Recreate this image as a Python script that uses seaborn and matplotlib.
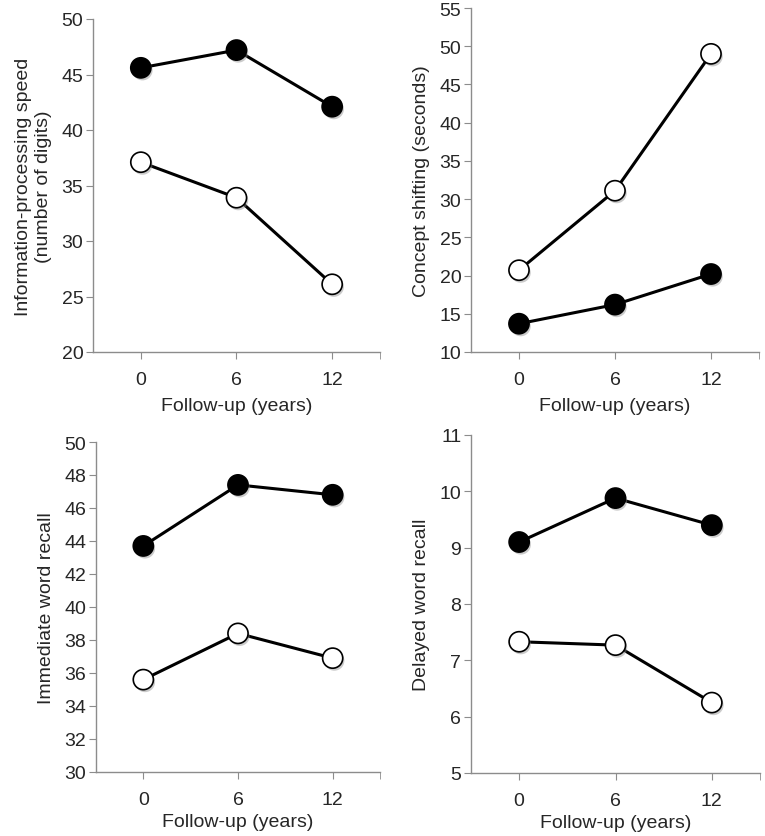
import matplotlib
matplotlib.use("Agg")
import matplotlib.pyplot as plt
import matplotlib.patheffects as pe
import seaborn as sns

# follow-up times (years)
followup = ["0", "6", "12"]

# information-processing speed
speed_filled = [45.6, 47.2, 42.1]
speed_open = [37.1, 33.9, 26.1]

# concept shifting (seconds)
shift_filled = [13.7, 16.2, 20.2]
shift_open = [20.7, 31.1, 49.0]

# immediate word recall
imm_filled = [43.7, 47.4, 46.8]
imm_open = [35.6, 38.4, 36.9]

# delayed word recall
del_filled = [9.1, 9.88, 9.4]
del_open = [7.33, 7.27, 6.25]

sns.set_style("white")
plt.rcParams['font.family'] = ['Liberation Sans', 'DejaVu Sans']

fig = plt.figure(figsize=(7.65, 8.37), dpi=100)
W, H = 765, 837


def add_axes(left, top, right, bottom):
    return fig.add_axes([left / W, 1 - bottom / H, (right - left) / W, (bottom - top) / H])


panels = [
    (add_axes(93, 20, 380, 353), speed_filled, speed_open, (20, 50), 5,
     "Information-processing speed\n(number of digits)", 6),
    (add_axes(471, 9, 759, 353), shift_filled, shift_open, (10, 55), 5,
     "Concept shifting (seconds)", 6),
    (add_axes(96, 443, 380, 773), imm_filled, imm_open, (30, 50), 2,
     "Immediate word recall", 3),
    (add_axes(471, 436, 760, 774), del_filled, del_open, (5, 11), 1,
     "Delayed word recall", 3),
]

shadow = [pe.SimplePatchShadow(offset=(1.2, -1.8), shadow_rgbFace="0.55", alpha=0.45),
          pe.Normal()]

for ax, filled, opened, ylim, step, label, xpad in panels:
    pos = list(range(len(followup)))
    for vals, face in [(filled, "black"), (opened, "white")]:
        sns.lineplot(x=pos, y=vals, ax=ax, color="black", linewidth=2.2)
        sns.scatterplot(x=pos, y=vals, ax=ax, s=210, color=face,
                        edgecolor="black", linewidth=1.2, zorder=3,
                        path_effects=shadow)
    ax.set_xlim(-0.5, 2.5)
    ax.set_ylim(*ylim)
    ax.set_yticks(list(range(ylim[0], ylim[1] + 1, step)))
    ax.set_xticks(pos)
    ax.set_xticklabels(followup)
    ax.set_xticks([2.5], minor=True)
    for s in ["top", "right"]:
        ax.spines[s].set_visible(False)
    for s in ["left", "bottom"]:
        ax.spines[s].set_color("#8c8c8c")
        ax.spines[s].set_linewidth(1)
    ax.tick_params(axis="both", which="both", direction="out", length=5,
                   color="#8c8c8c", labelsize=14, pad=2, left=True, bottom=True)
    ax.tick_params(axis="x", pad=9)
    ax.set_xlabel("Follow-up (years)", fontsize=14, labelpad=xpad)
    ax.set_ylabel(label, fontsize=14, labelpad=7)

fig.savefig("out.png", dpi=100)
